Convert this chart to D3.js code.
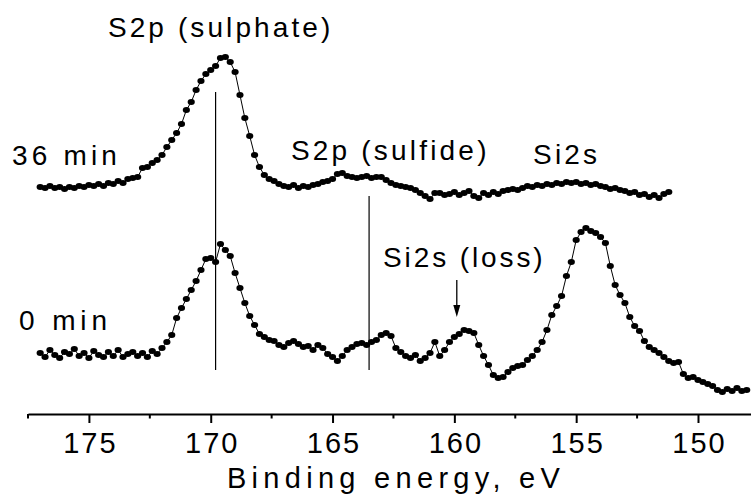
<!DOCTYPE html>
<html>
<head>
<meta charset="utf-8">
<script src="https://cdn.jsdelivr.net/npm/d3@7"></script>
<style>
  html, body { margin: 0; padding: 0; background: #fff; }
  svg { display: block; }
</style>
</head>
<body>
<svg id="chart" width="751" height="497"></svg>
<script>
// ---------------- DATA ----------------
// Binding energy grid (eV) of the measured spectra
const energies = [
  177.0,176.8,176.6,176.4,176.2,176.0,175.8,175.6,175.4,175.2,
  175.0,174.8,174.6,174.4,174.2,174.0,173.8,173.6,173.4,173.2,
  173.0,172.8,172.6,172.4,172.2,172.0,171.8,171.6,171.4,171.2,
  171.0,170.8,170.6,170.4,170.2,170.0,169.8,169.6,169.4,169.2,
  169.0,168.8,168.6,168.4,168.2,168.0,167.8,167.6,167.4,167.2,
  167.0,166.8,166.6,166.4,166.2,166.0,165.8,165.6,165.4,165.2,
  165.0,164.8,164.6,164.4,164.2,164.0,163.8,163.6,163.4,163.2,
  163.0,162.8,162.6,162.4,162.2,162.0,161.8,161.6,161.4,161.2,
  161.0,160.8,160.6,160.4,160.2,160.0,159.8,159.6,159.4,159.2,
  159.0,158.8,158.6,158.4,158.2,158.0,157.8,157.6,157.4,157.2,
  157.0,156.8,156.6,156.4,156.2,156.0,155.8,155.6,155.4,155.2,
  155.0,154.8,154.6,154.4,154.2,154.0,153.8,153.6,153.4,153.2,
  153.0,152.8,152.6,152.4,152.2,152.0,151.8,151.6,151.4,151.2,
  151.0,150.8,150.6,150.4,150.2,150.0,149.8,149.6,149.4,149.2,
  149.0,148.8,148.6,148.4,148.2,148.0
];

// Intensity (a.u., stacked) – spectrum after 36 min (177.0 ... 151.2 eV)
const series36min = [
  227,226,228,226,227,225,227,226,228,227,
  229,228,230,228,231,230,233,231,235,236,
  237,246,247,251,254,259,267,274,281,290,
  304,312,324,333,340,344,348,356,357,352,
  342,319,296,278,259,247,239,235,233,230,
  228,227,229,226,228,227,229,230,232,233,
  235,240,241,238,237,236,237,238,236,237,
  237,234,231,229,228,227,226,224,221,218,
  215,221,221,219,220,222,219,221,223,218,
  216,221,219,222,220,223,224,225,224,226,
  228,227,229,228,230,229,231,230,232,231,
  232,230,231,229,230,228,227,225,226,224,
  223,221,222,219,220,217,219,216,220,222
];

// Intensity (a.u.) – spectrum at 0 min (177.0 ... 148.0 eV)
const series0min = [
  61,57,64,59,56,62,60,65,58,61,
  56,63,59,57,62,58,64,57,60,62,
  58,61,57,63,60,66,72,79,96,106,
  115,124,133,144,155,156,152,170,164,158,
  141,126,111,98,89,80,77,74,73,69,
  67,71,73,70,67,68,64,69,66,60,
  57,53,58,64,67,70,71,69,72,74,
  79,81,78,66,62,58,56,59,53,56,
  61,72,58,64,72,77,80,84,83,81,
  69,58,49,39,36,37,42,46,48,49,
  54,58,64,72,84,99,108,118,138,152,
  174,182,186,183,181,177,171,148,129,119,
  111,97,88,83,73,67,64,61,57,53,
  51,52,40,36,37,34,32,30,28,24,
  22,25,23,26,23,24
];

const majorTicks = [175, 170, 165, 160, 155, 150];
const minorTicks = [177.5, 172.5, 167.5, 162.5, 157.5, 152.5];

// Reference lines: energy, lower and upper intensity
const refLineEnergies = [169.8, 163.5];
const refLineBottoms  = [44, 44];
const refLineTops     = [322, 218];

// Si2s (loss) arrow: energy, start intensity, tip intensity
const arrowEnergy = 159.9;
const arrowFrom = 134;
const arrowTo = 97;

// Text labels (anchored at start, baseline) in data units
const labelTexts    = ["S2p (sulphate)", "36 min", "S2p (sulfide)", "Si2s", "Si2s (loss)", "0 min"];
const labelEnergies = [174.22, 178.16, 166.71, 156.77, 162.93, 177.87];
const labelHeights  = [377, 249, 254, 250, 147, 84];

// ---------------- LAYOUT ----------------
const FONT = "Liberation Sans, Arial, sans-serif";
const svg = d3.select("#chart");
svg.append("rect").attr("width", 751).attr("height", 497).attr("fill", "#fff");

const x = d3.scaleLinear().domain([177.5, 147.5]).range([28, 758.9]);
const y = d3.scaleLinear().domain([0, 400]).range([414, 14]);

const pts36 = series36min.map((v, i) => [energies[i], v]);
const pts0  = series0min.map((v, i) => [energies[i], v]);

const line = d3.line().x(d => x(d[0])).y(d => y(d[1]));

// reference lines
refLineEnergies.forEach((e, i) => {
  svg.append("line")
    .attr("x1", x(e)).attr("x2", x(e))
    .attr("y1", y(refLineBottoms[i])).attr("y2", y(refLineTops[i]))
    .attr("stroke", "#000").attr("stroke-width", 1.2);
});

// spectra
[pts36, pts0].forEach(pts => {
  svg.append("path").datum(pts)
    .attr("d", line).attr("fill", "none")
    .attr("stroke", "#000").attr("stroke-width", 1);
  svg.append("g").selectAll("ellipse").data(pts).join("ellipse")
    .attr("cx", d => x(d[0])).attr("cy", d => y(d[1]))
    .attr("rx", 3.6).attr("ry", 3.0).attr("fill", "#000");
});

// arrow
const ax = x(arrowEnergy);
svg.append("line")
  .attr("x1", ax).attr("x2", ax)
  .attr("y1", y(arrowFrom)).attr("y2", y(arrowTo) - 8)
  .attr("stroke", "#000").attr("stroke-width", 1.3);
svg.append("path")
  .attr("d", `M${ax - 3.5},${y(arrowTo) - 12} L${ax + 3.5},${y(arrowTo) - 12} L${ax},${y(arrowTo)} Z`)
  .attr("fill", "#000");

// labels
const spacings = [3.1, 4.2, 3.2, 3.2, 2.9, 4.9];
labelTexts.forEach((t, i) => {
  svg.append("text")
    .attr("x", x(labelEnergies[i])).attr("y", y(labelHeights[i]))
    .style("font-family", FONT)
    .style("font-size", "28px")
    .style("letter-spacing", spacings[i] + "px")
    .attr("fill", "#000")
    .text(t);
});

// x axis
const axisG = svg.append("g").attr("transform", `translate(0,${y(0)})`);
axisG.call(d3.axisBottom(x).tickValues(majorTicks).tickSize(9).tickSizeOuter(0)
  .tickFormat(d3.format("d")));
axisG.attr("font-family", null).attr("font-size", null);
axisG.select(".domain").attr("stroke", "#000").attr("stroke-width", 2);
axisG.selectAll(".tick line").attr("stroke", "#000").attr("stroke-width", 2);
axisG.selectAll(".tick text")
  .attr("y", 39).attr("dy", 0).attr("dx", 1)
  .style("font-family", FONT)
  .style("font-size", "29px").style("letter-spacing", "2px")
  .attr("fill", "#000");
axisG.selectAll(".minor").data(minorTicks).join("line")
  .attr("class", "minor")
  .attr("x1", d => x(d)).attr("x2", d => x(d))
  .attr("y1", 0).attr("y2", 4.5)
  .attr("stroke", "#000").attr("stroke-width", 2);

svg.append("text")
  .attr("x", x(162.5) + 2.6).attr("y", 488)
  .attr("text-anchor", "middle")
  .style("font-family", FONT)
  .style("font-size", "29px").style("letter-spacing", "5.3px")
  .attr("fill", "#000")
  .text("Binding energy, eV");
</script>
</body>
</html>
